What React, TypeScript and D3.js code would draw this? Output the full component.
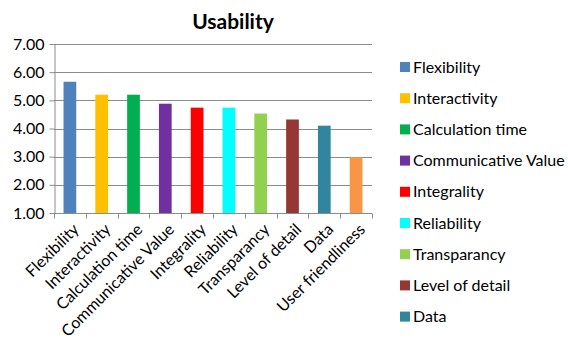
import { useEffect, useRef } from "react";
import * as d3 from "d3";

const categories = [
  "Flexibility",
  "Interactivity",
  "Calculation time",
  "Communicative Value",
  "Integrality",
  "Reliability",
  "Transparancy",
  "Level of detail",
  "Data",
  "User friendliness",
];
const values = [5.66, 5.2, 5.2, 4.88, 4.74, 4.74, 4.53, 4.32, 4.1, 2.98];
const colors = [
  "#4F81BD",
  "#FFC000",
  "#00B050",
  "#7030A0",
  "#FF0000",
  "#00FFFF",
  "#92D050",
  "#953735",
  "#31859C",
  "#F79646",
];
const yTicks = [1, 2, 3, 4, 5, 6, 7];
// legend box only has room for the first nine entries
const legendItems = categories.slice(0, 9);

const FONT = "Lato, 'Noto Sans', sans-serif";

export default function App() {
  const ref = useRef<SVGSVGElement>(null);

  useEffect(() => {
    if (!ref.current) return;
    const svg = d3.select(ref.current);
    svg.selectAll("*").remove();
    const width = 568;
    const height = 340;
    const margin = { top: 44, left: 54, right: 196, bottom: 127 };

    const x = d3
      .scaleBand()
      .domain(categories)
      .range([margin.left, width - margin.right])
      .paddingInner(0.6)
      .paddingOuter(0.3);
    const step = x.step();

    const y = d3.scaleLinear().domain([1, 7]).range([height - margin.bottom, margin.top]);

    svg.append("rect").attr("width", width).attr("height", height).attr("fill", "#fff");

    // gridlines
    svg
      .append("g")
      .selectAll("line")
      .data(yTicks)
      .enter()
      .append("line")
      .attr("x1", margin.left)
      .attr("x2", width - margin.right)
      .attr("y1", (d) => Math.round(y(d)) + 0.5)
      .attr("y2", (d) => Math.round(y(d)) + 0.5)
      .attr("stroke", "#8c8c8c")
      .attr("stroke-width", 1);

    // y axis
    const yAxis = svg
      .append("g")
      .attr("transform", `translate(${margin.left + 0.5},0)`)
      .call(
        d3
          .axisLeft(y)
          .tickValues(yTicks)
          .tickFormat(d3.format(".2f"))
          .tickSize(5)
          .tickSizeOuter(0)
      );
    yAxis.selectAll("text").style("font-family", FONT).style("font-size", "16px").style("fill", "#000").attr("x", -10);
    yAxis.selectAll(".domain, .tick line").attr("stroke", "#8c8c8c");

    // x axis with ticks at category boundaries
    const xAxisY = Math.round(y(1)) + 0.5;
    svg
      .append("line")
      .attr("x1", margin.left)
      .attr("x2", width - margin.right)
      .attr("y1", xAxisY)
      .attr("y2", xAxisY)
      .attr("stroke", "#8c8c8c");
    svg
      .append("g")
      .selectAll("line")
      .data(d3.range(categories.length + 1))
      .enter()
      .append("line")
      .attr("x1", (i) => Math.round(margin.left + i * step) + 0.5)
      .attr("x2", (i) => Math.round(margin.left + i * step) + 0.5)
      .attr("y1", xAxisY)
      .attr("y2", xAxisY + 5)
      .attr("stroke", "#8c8c8c");

    // bars
    svg
      .append("g")
      .selectAll("rect")
      .data(values)
      .enter()
      .append("rect")
      .attr("x", (_d, i) => x(categories[i])!)
      .attr("width", x.bandwidth())
      .attr("y", (d) => y(d))
      .attr("height", (d) => y(1) - y(d))
      .attr("fill", (_d, i) => colors[i]);

    // category labels
    svg
      .append("g")
      .selectAll("text")
      .data(categories)
      .enter()
      .append("text")
      .attr("transform", (d) => `translate(${x(d)! + x.bandwidth() / 2 + 6},${xAxisY + 13}) rotate(-45)`)
      .attr("text-anchor", "end")
      .attr("dy", "0.35em")
      .style("font-family", FONT)
      .style("font-size", "16px")
      .style("fill", "#000")
      .text((d) => d);

    // title
    svg
      .append("text")
      .attr("x", 233)
      .attr("y", 29)
      .attr("text-anchor", "middle")
      .style("font-family", FONT)
      .style("font-size", "21px")
      .style("font-weight", "700")
      .style("fill", "#000")
      .text("Usability");

    // legend
    const legend = svg
      .append("g")
      .selectAll("g")
      .data(legendItems)
      .enter()
      .append("g")
      .attr("transform", (_d, i) => `translate(400,${67 + i * 31.2})`);
    legend
      .append("rect")
      .attr("y", -5)
      .attr("width", 10)
      .attr("height", 10)
      .attr("fill", (_d, i) => colors[i]);
    legend
      .append("text")
      .attr("x", 13)
      .attr("dy", "0.35em")
      .style("font-family", FONT)
      .style("font-size", "16px")
      .style("fill", "#000")
      .text((d) => d);
  }, []);

  return (
    <svg
      ref={ref}
      width={568}
      height={340}
      style={{ position: "absolute", left: 0, top: 0, display: "block" }}
    />
  );
}
